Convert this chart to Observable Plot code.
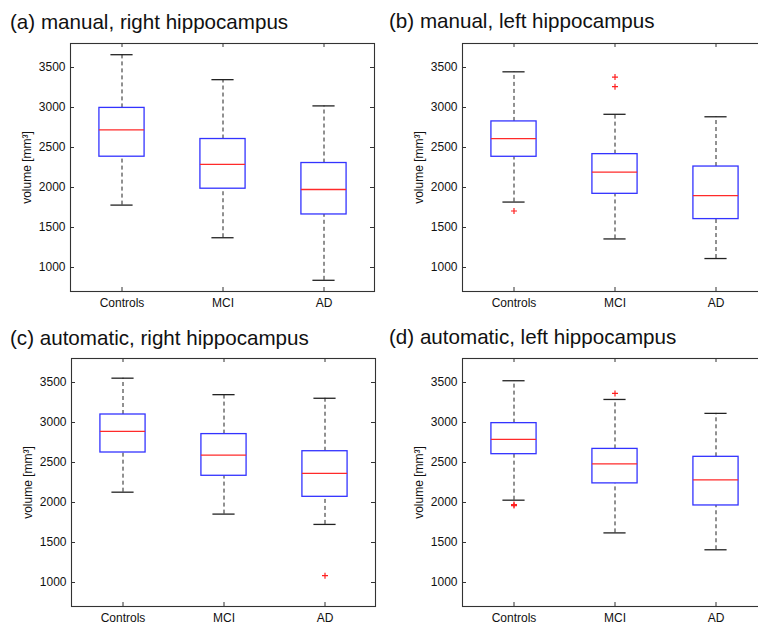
<!DOCTYPE html>
<html>
<head>
<meta charset="utf-8">
<script src="https://cdn.jsdelivr.net/npm/d3@7"></script>
<script src="https://cdn.jsdelivr.net/npm/@observablehq/plot@0.6"></script>
<style>
  html, body { margin: 0; padding: 0; background: #fff; }
  #fig { position: relative; width: 758px; height: 631px; overflow: hidden; background: #fff;
         font-family: "Liberation Sans", Arial, Helvetica, sans-serif; }
  .title { position: absolute; font-size: 20.6px; line-height: 1; color: #111; white-space: nowrap; }
  .panel { position: absolute; }
  .panel svg { max-width: none !important; }
</style>
</head>
<body>
<div id="fig"></div>
<script>
// ---- data ----
const categories = ["Controls", "MCI", "AD"];
const yTicks = [1000, 1500, 2000, 2500, 3000, 3500];
const yDomain = [700, 3800];
const yLabel = "volume [mm³]";
const titles = [
  "(a) manual, right hippocampus",
  "(b) manual, left hippocampus",
  "(c) automatic, right hippocampus",
  "(d) automatic, left hippocampus"
];
// per category: [lower whisker, Q1, median, Q3, upper whisker]
const manualRight = [[1780, 2385, 2720, 2995, 3660], [1372, 1985, 2288, 2606, 3348], [840, 1663, 1975, 2306, 3020]];
const manualLeft  = [[1818, 2384, 2612, 2826, 3446], [1357, 1921, 2192, 2417, 2915], [1112, 1605, 1898, 2262, 2884]];
const autoRight   = [[2129, 2625, 2888, 3100, 3554], [1855, 2334, 2593, 2855, 3348], [1726, 2071, 2365, 2641, 3303]];
const autoLeft    = [[2029, 2604, 2788, 2992, 3522], [1620, 2239, 2483, 2670, 3288], [1409, 1963, 2284, 2571, 3114]];
// outliers: [category, value]
const outManualRight = [];
const outManualLeft  = [["Controls", 1706], ["MCI", 3260], ["MCI", 3380]];
const outAutoRight   = [["AD", 1085]];
const outAutoLeft    = [["Controls", 1962], ["Controls", 1975], ["MCI", 3363]];

// ---- drawing ----
const plusSymbol = {
  draw(ctx, size) {
    const r = Math.sqrt(size / Math.PI);
    ctx.moveTo(-r, 0); ctx.lineTo(r, 0);
    ctx.moveTo(0, -r); ctx.lineTo(0, r);
  }
};

const W = 380, H = 279, ML = 70, MR = 6, MT = 7, MB = 24;
const FW = W - ML - MR, FH = H - MT - MB;
const band = FW / 3;
const boxInset = (band - 45.5) / 2;
const capInset = (band - 22.5) / 2;

function makePanel(stats, outliers, left, top) {
  const rows = categories.map((c, i) => ({
    cat: c, lo: stats[i][0], q1: stats[i][1], med: stats[i][2], q3: stats[i][3], hi: stats[i][4]
  }));
  const outs = outliers.map(([c, v]) => ({cat: c, v}));
  const chart = Plot.plot({
    width: W, height: H,
    marginLeft: ML, marginRight: MR, marginTop: MT, marginBottom: MB,
    style: {fontFamily: '"Liberation Sans", Arial, Helvetica, sans-serif', fontSize: "12px", color: "#111", background: "transparent", overflow: "visible"},
    x: {type: "band", domain: categories, padding: 0, label: null},
    y: {domain: yDomain, label: null},
    marks: [
      Plot.ruleX(rows, {x: "cat", y1: "q3", y2: "hi", stroke: "#222", strokeDasharray: "4,3"}),
      Plot.ruleX(rows, {x: "cat", y1: "lo", y2: "q1", stroke: "#222", strokeDasharray: "4,3"}),
      Plot.tickY(rows, {x: "cat", y: "hi", stroke: "#222", strokeWidth: 1.3, insetLeft: capInset, insetRight: capInset}),
      Plot.tickY(rows, {x: "cat", y: "lo", stroke: "#222", strokeWidth: 1.3, insetLeft: capInset, insetRight: capInset}),
      Plot.barY(rows, {x: "cat", y1: "q1", y2: "q3", fill: "white", stroke: "#3333ff", strokeWidth: 1.3, insetLeft: boxInset, insetRight: boxInset}),
      Plot.tickY(rows, {x: "cat", y: "med", stroke: "#ff2a2a", strokeWidth: 1.3, insetLeft: boxInset, insetRight: boxInset}),
      Plot.dot(outs, {x: "cat", y: "v", symbol: plusSymbol, r: 3, stroke: "#ff2020", fill: "none", strokeWidth: 1.2}),
      // inner ticks (MATLAB style)
      Plot.ruleY(yTicks, {y: d => d, insetRight: FW - 4, stroke: "#333"}),
      Plot.ruleY(yTicks, {y: d => d, insetLeft: FW - 4, stroke: "#333"}),
      Plot.ruleX(categories, {x: d => d, insetTop: FH - 4, stroke: "#333"}),
      Plot.ruleX(categories, {x: d => d, insetBottom: FH - 4, stroke: "#333"}),
      Plot.axisY({ticks: yTicks, tickSize: 0, tickPadding: 5, tickFormat: d => String(d), fontSize: 12}),
      Plot.axisX({tickSize: 0, tickPadding: 7, fontSize: 12}),
      Plot.text([yLabel], {frameAnchor: "left", textAnchor: "middle", rotate: -90, dx: -43, dy: 0, fontSize: 12, fill: "#111"}),
      Plot.frame({stroke: "#333", strokeWidth: 1.1})
    ]
  });
  chart.style.maxWidth = "none";
  const fig = document.getElementById("fig");
  const wrap = document.createElement("div");
  wrap.className = "panel";
  wrap.style.left = left + "px";
  wrap.style.top = top + "px";
  wrap.style.width = W + "px";
  wrap.style.height = H + "px";
  wrap.appendChild(chart);
  fig.appendChild(wrap);
  return wrap;
}

function makeTitle(text, left, top) {
  const t = document.createElement("div");
  t.className = "title";
  t.textContent = text;
  t.style.left = left + "px";
  t.style.top = top + "px";
  document.getElementById("fig").appendChild(t);
}

makeTitle(titles[0], 10, 12);
makeTitle(titles[1], 389, 11);
makeTitle(titles[2], 10, 328);
makeTitle(titles[3], 389, 327);

makePanel(manualRight, outManualRight, 0, 36);
makePanel(manualLeft, outManualLeft, 392, 36);
makePanel(autoRight, outAutoRight, 1, 351);
makePanel(autoLeft, outAutoLeft, 392, 351);
</script>
</body>
</html>
